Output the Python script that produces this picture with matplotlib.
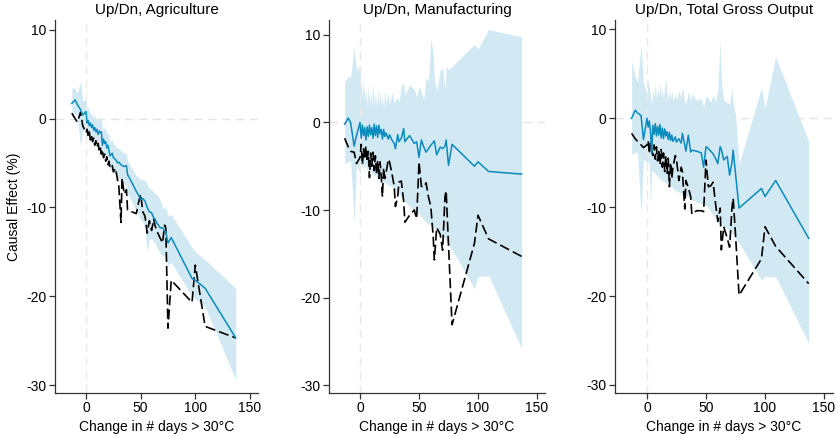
import numpy as np
import matplotlib
matplotlib.use('Agg')
import matplotlib.pyplot as plt

plt.rcParams['font.family'] = ['Liberation Sans', 'DejaVu Sans']
plt.rcParams['axes.unicode_minus'] = False

# change in # days > 30C (shared x for all panels)
x = np.array([-13, -10, -8, -5, -3, 0, 1, 2, 3, 4,
              5, 6, 7, 8, 9, 10, 11, 12, 13, 14,
              15, 16, 17, 18, 19, 20, 21, 22, 24, 25,
              27, 29, 30, 32, 33, 35, 37, 38, 42, 46,
              48, 50, 52, 54, 56, 58, 60, 62, 63, 65,
              68, 70, 72, 73, 75, 78, 97, 100, 109, 137])

# Agriculture
ag_mid = [1.7, 2.1, 1.6, 1.0, 0.4, 0.8, -0.5, -0.2, -0.8, -0.5,
          -1.0, -0.7, -1.3, -1.0, -1.5, -1.2, -1.8, -1.4, -1.6, -1.5,
          -3.0, -2.3, -2.8, -2.6, -3.3, -3.0, -3.6, -4.2, -3.9, -4.4,
          -4.6, -5.0, -4.9, -5.2, -5.3, -5.4, -5.3, -6.3, -7.2, -8.2,
          -8.6, -9.1, -9.0, -9.3, -10.0, -10.5, -10.6, -11.2, -11.3, -11.8,
          -12.3, -12.3, -12.6, -12.8, -14.0, -13.4, -18.0, -18.2, -19.1, -24.7]
ag_hi = [3.5, 3.4, 2.8, 4.2, 2.0, 2.2, 1.0, 1.3, 0.5, 0.9,
         0.3, 0.6, 0.0, 0.5, -0.2, 0.3, -0.4, 0.3, -0.2, 0.0,
         -1.5, -0.8, -1.3, -1.0, -1.8, -1.5, -2.0, -2.6, -2.4, -2.9,
         -3.0, -3.4, -3.3, -3.6, -3.7, -3.9, -4.0, -4.8, -5.6, -6.4,
         -6.6, -6.9, -6.8, -7.0, -7.4, -7.9, -8.0, -8.3, -8.4, -8.6,
         -9.2, -10.0, -10.2, -9.9, -11.0, -10.8, -14.5, -15.0, -15.9, -19.1]
ag_lo = [0.2, 0.6, 0.2, -3.1, -1.0, -1.4, -2.2, -1.8, -2.6, -2.2,
         -2.8, -2.4, -3.0, -2.7, -3.2, -2.9, -3.5, -3.1, -3.6, -3.3,
         -4.6, -4.0, -4.5, -4.3, -5.0, -4.7, -5.2, -5.8, -5.6, -6.1,
         -6.3, -6.7, -6.7, -7.0, -7.1, -7.4, -7.6, -8.4, -9.4, -10.4,
         -10.8, -11.4, -11.6, -12.5, -15.0, -13.6, -13.5, -13.9, -14.0, -14.6,
         -15.2, -15.4, -15.5, -15.6, -16.5, -16.2, -20.0, -20.3, -21.2, -29.4]
ag_dn = [0.6, 0.0, -0.4, 0.7, -0.8, -1.6, -1.2, -2.0, -1.5, -2.4,
         -1.9, -2.6, -2.2, -3.0, -2.5, -3.2, -2.8, -3.6, -3.2, -4.0,
         -3.5, -4.4, -4.0, -4.8, -4.3, -5.2, -4.8, -5.6, -5.3, -6.0,
         -5.6, -7.0, -7.6, -11.7, -6.7, -8.5, -8.0, -10.3, -10.5, -10.7,
         -9.5, -8.5, -10.5, -11.0, -12.9, -11.5, -12.6, -11.3, -12.0, -12.7,
         -13.5, -14.0, -12.0, -12.3, -23.6, -18.2, -20.7, -16.5, -23.4, -24.7]

# Manufacturing
mf_mid = [-0.2, 0.5, 0.0, -2.7, -1.5, 0.0, -1.8, -0.3, -1.5, -0.6,
          -2.0, -0.5, -1.6, -0.3, -1.4, -0.6, -1.8, -0.2, -1.5, -0.4,
          -1.7, -0.3, -1.3, -0.8, -1.9, -0.8, -1.6, -1.2, -1.9, -1.4,
          -2.0, -2.4, -3.0, -1.4, -2.2, -1.8, -0.7, -2.2, -1.5, -2.4,
          -2.2, -4.0, -2.0, -2.8, -3.4, -3.0, -2.6, -2.3, -2.1, -3.7,
          -2.8, -3.0, -2.7, -2.0, -4.9, -2.5, -5.0, -4.5, -5.6, -5.9]
mf_hi = [4.7, 5.2, 5.2, 8.5, 6.0, 6.4, 4.0, 3.0, 5.0, 2.5,
         3.8, 2.0, 4.2, 1.8, 3.6, 2.0, 4.5, 1.8, 3.5, 1.6,
         4.0, 2.0, 3.6, 1.9, 3.0, 1.7, 3.9, 2.2, 3.4, 2.0,
         3.5, 2.2, 2.6, 2.8, 2.3, 4.2, 4.5, 3.2, 4.3, 3.8,
         2.9, 4.1, 3.4, 2.6, 5.2, 4.7, 9.6, 7.9, 5.0, 3.6,
         6.0, 6.2, 3.7, 6.4, 6.0, 6.4, 8.9, 8.4, 10.6, 9.8]
mf_lo = [-4.7, -4.5, -4.3, -11.5, -4.9, -5.9, -4.6, -5.4, -4.7, -5.3,
         -4.9, -5.5, -5.2, -5.8, -5.4, -6.0, -5.7, -6.2, -5.9, -6.4,
         -6.1, -6.5, -6.3, -6.7, -6.5, -6.9, -6.8, -7.0, -7.1, -7.2,
         -7.3, -7.5, -7.8, -7.9, -8.2, -8.5, -8.8, -9.0, -9.6, -10.1,
         -10.3, -10.4, -10.8, -11.1, -11.4, -11.6, -11.8, -12.0, -12.0, -12.3,
         -12.8, -13.0, -13.3, -13.5, -14.0, -14.5, -19.0, -17.6, -17.5, -25.8]
mf_dn = [-1.8, -2.8, -3.3, -3.4, -4.7, -4.0, -2.5, -4.8, -3.0, -4.2,
         -2.7, -4.5, -3.3, -6.3, -3.5, -5.0, -3.4, -5.5, -3.8, -5.9,
         -4.3, -6.4, -4.5, -6.2, -8.5, -5.2, -6.4, -5.8, -4.2, -4.5,
         -5.8, -7.3, -9.6, -8.4, -6.8, -6.7, -9.0, -11.4, -10.6, -10.0,
         -11.0, -4.5, -7.3, -7.4, -6.9, -8.5, -9.6, -13.0, -15.7, -12.0,
         -12.8, -14.6, -8.5, -7.8, -14.0, -23.1, -13.8, -10.6, -13.3, -15.3]

# Total Gross Output
tg_mid = [0.0, 0.9, 0.6, 0.3, -2.4, 0.0, -1.0, -0.3, -1.5, -4.0,
          -0.8, -1.8, -0.6, -2.0, -0.9, -1.9, -0.7, -2.2, -1.1, -2.3,
          -1.2, -2.0, -1.5, -2.4, -1.6, -2.5, -1.9, -2.6, -2.1, -2.7,
          -2.3, -2.8, -1.7, -3.0, -3.7, -1.9, -3.8, -3.6, -3.7, -3.9,
          -5.5, -3.2, -3.4, -3.7, -4.0, -4.5, -5.1, -3.2, -3.5, -4.7,
          -4.3, -6.4, -5.0, -3.6, -6.2, -10.1, -7.9, -8.8, -7.0, -13.5]
tg_hi = [6.4, 4.7, 4.1, 8.2, 4.0, 2.8, 4.5, 3.2, 2.6, 1.5,
         3.2, 2.4, 3.8, 2.2, 3.4, 2.5, 4.0, 2.3, 3.3, 2.2,
         3.6, 4.6, 2.8, 2.0, 3.2, 2.3, 3.0, 1.9, 2.8, 2.0,
         3.1, 2.3, 3.6, 1.8, 1.6, 3.0, 2.0, 2.8, 2.0, 2.2,
         1.2, 2.5, 2.2, 1.8, 2.6, 1.9, 3.1, 8.8, 4.2, 2.0,
         1.8, 1.6, 3.4, 1.6, 0.5, -5.1, 3.4, 1.1, 6.9, -2.6]
tg_lo = [-4.1, -3.8, -3.9, -10.7, -4.6, -5.0, -4.8, -5.5, -10.1, -6.0,
         -5.8, -6.3, -6.0, -6.6, -6.3, -6.9, -6.6, -7.1, -6.8, -7.3,
         -7.0, -7.4, -7.2, -7.6, -7.4, -7.8, -7.6, -8.0, -8.0, -8.2,
         -8.3, -8.4, -8.5, -8.6, -8.7, -8.9, -9.1, -9.2, -9.4, -9.6,
         -9.7, -9.8, -10.1, -10.5, -10.9, -11.2, -11.6, -11.9, -12.0, -12.2,
         -12.4, -12.6, -12.9, -13.1, -13.5, -14.0, -18.2, -17.8, -17.8, -25.3]
tg_dn = [-1.7, -2.3, -2.6, -3.0, -3.3, -3.0, -2.5, -4.0, -2.8, -3.5,
         -4.2, -3.0, -4.6, -3.2, -4.8, -3.6, -5.2, -3.5, -5.5, -3.9,
         -6.0, -4.2, -6.2, -4.5, -7.7, -5.0, -6.8, -5.5, -4.2, -4.6,
         -7.0, -5.5, -6.0, -10.2, -7.0, -7.8, -8.8, -10.8, -10.4, -10.4,
         -10.5, -4.7, -7.7, -7.6, -7.2, -9.5, -11.6, -10.1, -14.8, -12.2,
         -13.5, -14.5, -10.1, -9.0, -13.1, -19.9, -15.8, -12.2, -14.4, -18.6]

titles = ['Up/Dn, Agriculture', 'Up/Dn, Manufacturing', 'Up/Dn, Total Gross Output']
yticks = [-30, -20, -10, 0, 10]
xticks = [0, 50, 100, 150]

blue = '#0a8bbd'
band = '#d2e9f3'

fig = plt.figure(figsize=(8.36, 4.37), dpi=100)

# axes boxes in pixels (left, right) and limits
boxes = [(55, 258), (329, 545), (615, 833)]
xlims = [(-28.4, 157.4), (-26.3, 156.8), (-27.1, 157.6)]
ylims = [(-30.9, 11.1), (-30.9, 11.7), (-30.9, 11.05)]
data = [(ag_mid, ag_lo, ag_hi, ag_dn),
        (mf_mid, mf_lo, mf_hi, mf_dn),
        (tg_mid, tg_lo, tg_hi, tg_dn)]

for i in range(3):
    l, r = boxes[i]
    ax = fig.add_axes([l/836., 44/437., (r-l)/836., 373/437.])
    mid, lo, hi, dn = data[i]
    ax.axhline(0, color='#e4e4e4', lw=1, dashes=(6, 4), zorder=0)
    ax.fill_between(x, lo, hi, color=band, lw=0, zorder=1)
    ax.axvline(0, color='#e9e9e9', lw=1, dashes=(6, 4), zorder=1.5)
    ax.plot(x, mid, color=blue, lw=1.1, zorder=3)
    ax.plot(x, dn, color='black', lw=1.2, dashes=(6, 2.5), zorder=2)

    ax.set_xlim(xlims[i])
    ax.set_ylim(ylims[i])
    ax.set_xticks(xticks)
    ax.set_yticks(yticks)
    ax.spines['top'].set_visible(False)
    ax.spines['right'].set_visible(False)
    for s in ['left', 'bottom']:
        ax.spines[s].set_color('#333333')
        ax.spines[s].set_linewidth(0.9)
    ax.tick_params(direction='out', length=4, width=0.9, color='#333333',
                   labelsize=10, pad=2)
    ax.set_title(titles[i], fontsize=11, pad=4)
    ax.set_xlabel('Change in # days > 30\u00b0C', fontsize=10, labelpad=3)
    if i == 0:
        ax.set_ylabel('Causal Effect (%)', fontsize=10, labelpad=4)

fig.savefig('out.png', dpi=100)
